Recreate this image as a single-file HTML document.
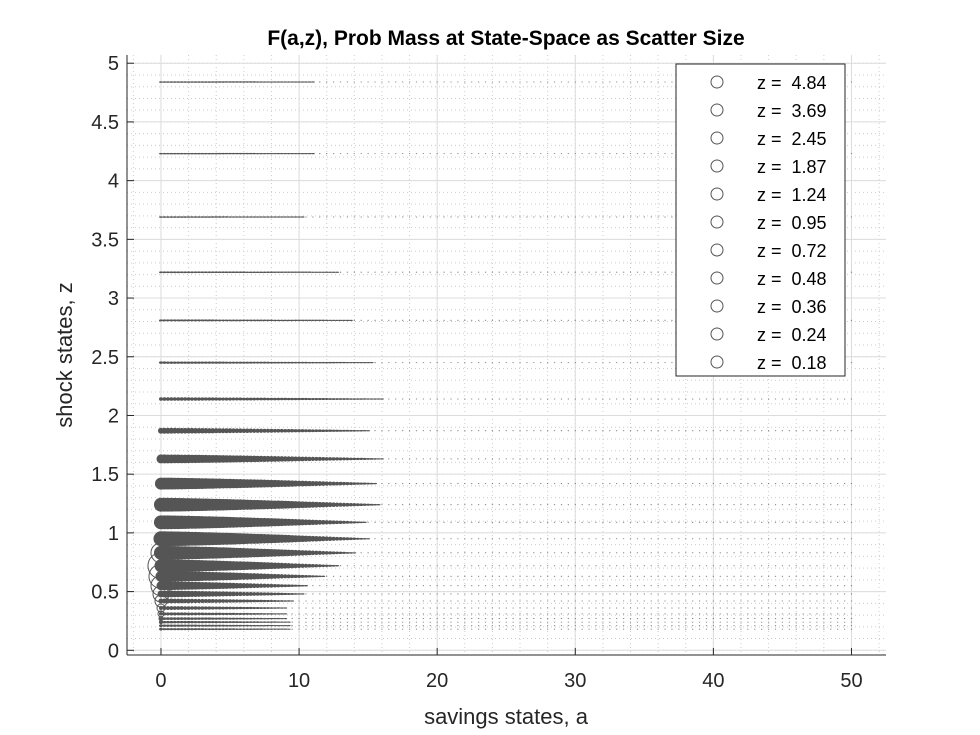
<!DOCTYPE html>
<html><head><meta charset="utf-8"><style>
body{margin:0;background:#fff;}
svg{display:block;font-family:"Liberation Sans",Arial,sans-serif;}
</style></head><body>
<svg id="chart" width="980" height="735" viewBox="0 0 980 735" xmlns="http://www.w3.org/2000/svg">
<rect x="0" y="0" width="980" height="735" fill="#fff"/>
<text x="506" y="45" text-anchor="middle" font-size="21" font-weight="bold" fill="#000">F(a,z), Prob Mass at State-Space as Scatter Size</text>
<g id="grid"></g>
<g id="marks"></g>
<g id="axes"></g>
<text x="506" y="724" text-anchor="middle" font-size="22" fill="#262626">savings states, a</text>
<text transform="translate(72,355) rotate(-90)" text-anchor="middle" font-size="22" fill="#262626">shock states, z</text>
<g id="legend"></g>
</svg>
<script>
// data
const zValues = [4.84,4.23,3.69,3.22,2.81,2.45,2.14,1.87,1.63,1.42,1.24,1.09,0.95,0.83,0.72,0.63,0.55,0.48,0.42,0.36,0.31,0.27,0.24,0.21,0.18];
const bodyHalfHeight = [0.8,0.8,0.8,0.9,1,1.2,1.8,3,4.5,6,7,7,7.5,7,6.5,5.5,4.5,3.5,2.5,2,1.6,1.4,1.3,1.2,1.1];
const bodyLength = [32,32,30,30,28,26,22,18,18,17,17,16,16,15,14,13,12,12,12,12,13,14,15,16,17];
const atZeroRadius = [0,0,0,0,0,0,0,0,0,0,0,0,6,10,13,12,10,8,6,4,3,2,1.5,1,1];
const legendLabels = ["4.84","3.69","2.45","1.87","1.24","0.95","0.72","0.48","0.36","0.24","0.18"];
const xTicks = [0,10,20,30,40,50];
const yTicks = [0,0.5,1,1.5,2,2.5,3,3.5,4,4.5,5];

const NS="http://www.w3.org/2000/svg";
const L=127,R=886,T=55,B=655;
const xMin=-2.46,xMax=52.5,yMin=-0.04,yMax=5.07;
const X=a=>L+(a-xMin)/(xMax-xMin)*(R-L);
const Y=z=>B-(z-yMin)/(yMax-yMin)*(B-T);
function mk(tag,attrs,parent){const e=document.createElementNS(NS,tag);for(const k in attrs)e.setAttribute(k,attrs[k]);parent.appendChild(e);return e;}
const grid=document.getElementById('grid'),marks=document.getElementById('marks'),axes=document.getElementById('axes'),legend=document.getElementById('legend');
for(let a=-2;a<=52;a+=2){const e=mk('line',{x1:X(a),x2:X(a),y1:T,y2:B,stroke:'#ccc','stroke-width':1,'stroke-dasharray':'1,3'},grid);

}
for(let i=0;i<=50;i++){const z=i/10;const e=mk('line',{x1:L,x2:R,y1:Y(z),y2:Y(z),stroke:'#ccc','stroke-width':1,'stroke-dasharray':'1,3'},grid);

}
xTicks.forEach(t=>{const e=mk('line',{x1:X(t),x2:X(t),y1:T,y2:B,stroke:'#dcdcdc','stroke-width':1},grid);

});
yTicks.forEach(t=>{const e=mk('line',{x1:L,x2:R,y1:Y(t),y2:Y(t),stroke:'#dcdcdc','stroke-width':1},grid);

});
zValues.forEach((z,i)=>{
  const g=mk('g',{},marks);
  
  
  const y=Y(z);
  for(let a=0;a<=50;a+=0.25){
    const f=a<bodyLength[i]?1-Math.pow(a/bodyLength[i],1.3):0;
    const r=Math.max(0.55,bodyHalfHeight[i]*f);
    const tail=r<=0.6;
    if(tail && (a*4)%2!==0) continue;
    const c=mk('ellipse',{cx:X(a),cy:y,rx:tail?0.7:Math.max(r,2),ry:r,fill:'#555',stroke:'none','fill-opacity':tail?0.75:1},g);
    
    
  }
  if(atZeroRadius[i]>0){
    const c=mk('circle',{cx:X(0),cy:y,r:atZeroRadius[i],fill:'none',stroke:'#555','stroke-width':1},g);
    
    
  }
});
mk('line',{x1:L,x2:L,y1:T,y2:B,stroke:'#262626','stroke-width':1},axes);
mk('line',{x1:L,x2:R,y1:B,y2:B,stroke:'#262626','stroke-width':1},axes);
xTicks.forEach(t=>{mk('line',{x1:X(t),x2:X(t),y1:B,y2:B-7,stroke:'#262626'},axes);
const e=mk('text',{x:X(t),y:B+32,'text-anchor':'middle','font-size':20,fill:'#262626'},axes);e.textContent=t;

});
yTicks.forEach(t=>{mk('line',{x1:L,x2:L+7,y1:Y(t),y2:Y(t),stroke:'#262626'},axes);
const e=mk('text',{x:L-8,y:Y(t)+7,'text-anchor':'end','font-size':20,fill:'#262626'},axes);e.textContent=t;

});
mk('rect',{x:676,y:64,width:169,height:312,fill:'#fff',stroke:'#262626','stroke-width':1},legend);
legendLabels.forEach((lab,i)=>{
  const y=82+i*28;
  const c=mk('circle',{cx:717,cy:y,r:6,fill:'none',stroke:'#555','stroke-width':1},legend);
  
  
  const t=mk('text',{x:757,y:y+7,'font-size':18,fill:'#000'},legend);
  t.setAttribute('style','white-space:pre');
  t.textContent='z =  '+lab;
  
  
});
</script>
</body></html>
